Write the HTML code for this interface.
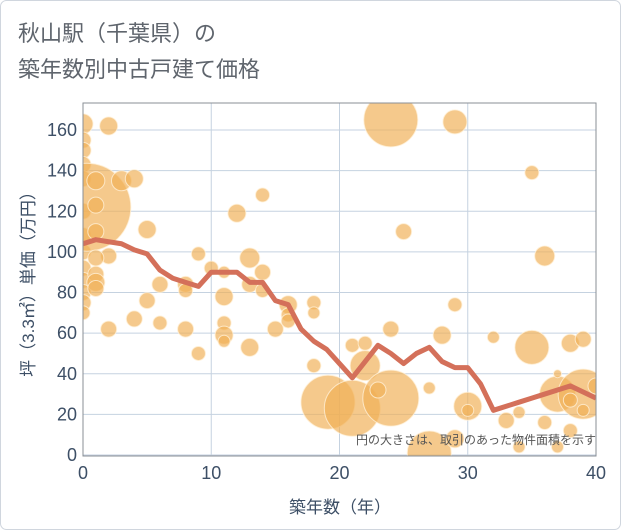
<!DOCTYPE html>
<html><head><meta charset="utf-8"><style>
body{margin:0;background:#fff;}
svg{display:block;font-family:"Liberation Sans","Noto Sans CJK JP",sans-serif;}
</style></head><body>
<svg id="chart" width="621" height="530">
<rect x="0.5" y="0.5" width="620" height="529" rx="6" fill="#fff" stroke="#d0d6de"/>
<text x="18" y="41" font-size="22" fill="#5f656d">秋山駅（千葉県）の</text>
<text x="18" y="77" font-size="22" fill="#5f656d">築年数別中古戸建て価格</text>
<defs><clipPath id="pc"><rect x="83" y="103" width="513" height="353"/></clipPath></defs>
<g id="grid"></g>
<g id="bubbles" clip-path="url(#pc)"></g>
<g id="line" clip-path="url(#pc)"></g>
<rect x="83" y="103" width="513" height="353" fill="none" stroke="#8a8f96"/>
<g id="ticks"></g>
<text x="596" y="444" font-size="12" fill="#555" text-anchor="end">円の大きさは、取引のあった物件面積を示す</text>
<text x="340" y="513" font-size="17" fill="#3d4f66" text-anchor="middle">築年数（年）</text>
<text transform="translate(34,280) rotate(-90)" font-size="17" fill="#3d4f66" text-anchor="middle">坪（3.3㎡）単価（万円）</text>
</svg>
<script>
const xTicks=[0,10,20,30,40];
const yTicks=[0,20,40,60,80,100,120,140,160];
const lineYears=[0,1,2,3,4,5,6,7,8,9,10,11,12,13,14,15,16,17,18,19,20,21,22,23,24,25,26,27,28,29,30,31,32,33,34,35,36,37,38,39,40];
const linePrices=[104,106,105,104,101,99,91,87,85,83,90,90,90,85,85,76,74,62,56,52,45,38,46,54,50,45,50,53,46,43,43,35,22,24,26,28,30,32,34,31,28,25].slice(0,41);
const bubbleX=[0,0,0,0,0,0,0,0,0,0,0,0,0,0.3,2,1,3,4,1,1,2,1,1,1,1,2,4,5,5,6,6,8,8,8,9,9,10,11,11,11,11,11,12,13,13,13,14,14,14,15,16,16,16,18,18,18,24,29,35,36,25,29,24,28,21,22,22,32,35,38,39,19.1,21,24,23,27,30,30,33,34,34,37,39,40,37,38,39,36,38,37,27,29];
const bubbleY=[163,155,150,143,136,120,108,100,92,86,80,75,70,122,162,135,135,136,123,110,98,97,89,85,82,62,67,76,111,84,65,84,81,62,99,50,92,90,78,65,59,56,119,97,84,53,128,90,81,62,74,69,66,75,70,44,165,164,139,98,110,74,62,59,54,55,44,58,53,55,57,26,23,28,32,33,24,22,17,21,4,30,30,34,40,27,22,16,12,4,1,8];
const bubbleR=[10,8,8,8,8,8,8,8,8,8,8,8,7,44,9,9,10,9,8,8,8,8,8,9,8,8,8,8,9,8,7,8,7,8,7,7,7,6,9,7,9,6,9,10,8,9,7,8,7,8,9,7,7,7,6,7,27,12,7,10,8,7,8,9,7,7,15,6,17,9,8,27,28,28,8,6,14,6,8,6,6,18,25,8,4,7,6,7,7,6,22,9];
const NS="http://www.w3.org/2000/svg";
const xs=v=>83+v*513/40, ys=v=>455-v*325/160;
const grid=document.getElementById('grid'), ticks=document.getElementById('ticks');
xTicks.forEach(t=>{
 const l=document.createElementNS(NS,'line');
 l.setAttribute('x1',xs(t));l.setAttribute('x2',xs(t));l.setAttribute('y1',103);l.setAttribute('y2',456);
 l.setAttribute('stroke','#c5d2e0');
 
 
 grid.appendChild(l);
 const tx=document.createElementNS(NS,'text');
 tx.setAttribute('x',xs(t));tx.setAttribute('y',479);tx.setAttribute('font-size','18');tx.setAttribute('fill','#3d4f66');tx.setAttribute('text-anchor','middle');
 tx.textContent=t;
 
 
 ticks.appendChild(tx);
});
yTicks.forEach(t=>{
 const l=document.createElementNS(NS,'line');
 l.setAttribute('x1',83);l.setAttribute('x2',596);l.setAttribute('y1',ys(t));l.setAttribute('y2',ys(t));
 l.setAttribute('stroke','#c5d2e0');
 
 
 grid.appendChild(l);
 const tx=document.createElementNS(NS,'text');
 tx.setAttribute('x',77);tx.setAttribute('y',ys(t)+6);tx.setAttribute('font-size','18');tx.setAttribute('fill','#3d4f66');tx.setAttribute('text-anchor','end');
 tx.textContent=t;
 
 
 ticks.appendChild(tx);
});
const bg=document.getElementById('bubbles');
bubbleX.forEach((x,i)=>{
 const c=document.createElementNS(NS,'circle');
 c.setAttribute('cx',xs(x));c.setAttribute('cy',ys(bubbleY[i]));c.setAttribute('r',bubbleR[i]);
 c.setAttribute('fill','rgba(240,176,86,0.68)');c.setAttribute('stroke','rgba(255,240,215,0.8)');c.setAttribute('stroke-width','1');
 
 
 bg.appendChild(c);
});
const p=document.createElementNS(NS,'polyline');
p.setAttribute('points',lineYears.map((x,i)=>xs(x)+','+ys(linePrices[i])).join(' '));
p.setAttribute('fill','none');p.setAttribute('stroke','#d4705a');p.setAttribute('stroke-width','5');p.setAttribute('stroke-linejoin','round');


document.getElementById('line').appendChild(p);
</script>
</body></html>
